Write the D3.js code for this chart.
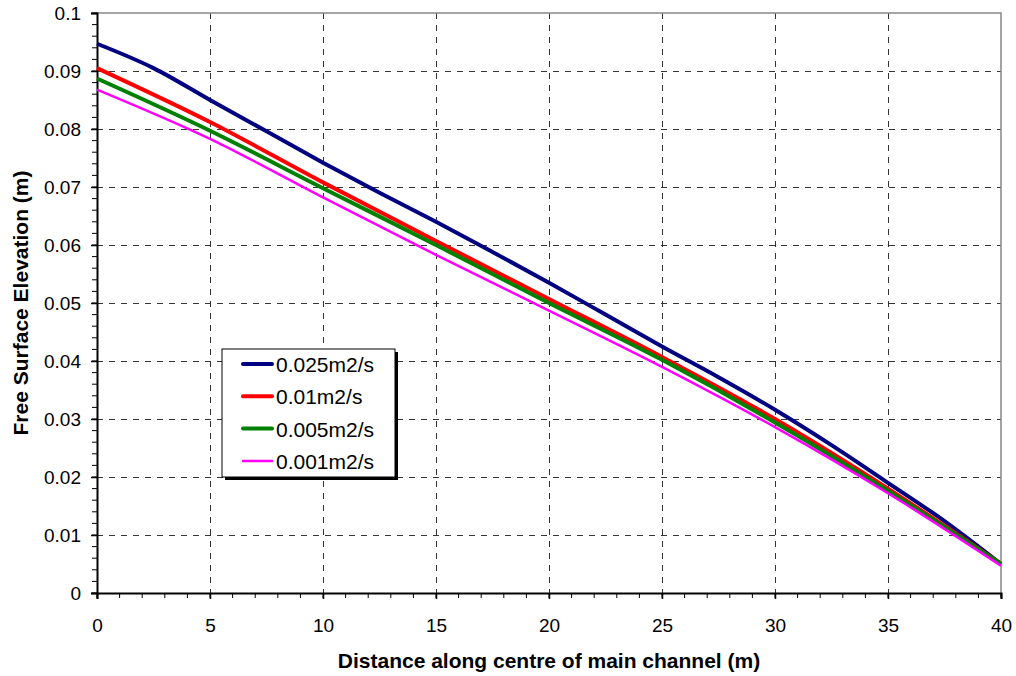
<!DOCTYPE html>
<html>
<head>
<meta charset="utf-8">
<script src="https://cdn.jsdelivr.net/npm/d3@7"></script>
<style>
  body { margin: 0; background: #fff; }
  text { font-family: "Liberation Sans", Arial, sans-serif; }
</style>
</head>
<body>
<script>
// distances along channel (m)
var xs = [0, 5, 10, 15, 20, 25, 30, 35, 40];
var xsBlue = [0, 2.5, 5, 7.5, 10, 12.5, 15, 17.5, 20, 22.5, 25, 27.5, 30, 32.5, 35, 37.5, 40];

var q025 = [0.0947, 0.0905, 0.0850, 0.0796, 0.0742, 0.0690, 0.0640, 0.0588, 0.0535, 0.0480, 0.0425, 0.0372, 0.0316, 0.0255, 0.0190, 0.0124, 0.0050];
var q010 = [0.0905, 0.0812, 0.0708, 0.0607, 0.0507, 0.0407, 0.0300, 0.0180, 0.0050];
var q005 = [0.0887, 0.0797, 0.0698, 0.0600, 0.0500, 0.0402, 0.0294, 0.0176, 0.0050];
var q001 = [0.0868, 0.0783, 0.0682, 0.0583, 0.0487, 0.0390, 0.0286, 0.0172, 0.0047];

var names = ["0.025m2/s", "0.01m2/s", "0.005m2/s", "0.001m2/s"];
var colors = ["#000080", "#ff0000", "#008000", "#ff00ff"];
var widths = [4, 4, 4, 2.5];

var xTicks = [0, 5, 10, 15, 20, 25, 30, 35, 40];
var yTicks = [0, 0.01, 0.02, 0.03, 0.04, 0.05, 0.06, 0.07, 0.08, 0.09, 0.1];

var series = [
  { x: xsBlue, y: q025 },
  { x: xs, y: q010 },
  { x: xs, y: q005 },
  { x: xs, y: q001 }
];

var width = 1016, height = 676;
var pLeft = 97, pRight = 1001, pTop = 13, pBottom = 593;

var svg = d3.select("body").append("svg")
    .attr("width", width)
    .attr("height", height);

var x = d3.scaleLinear().domain([0, 40]).range([pLeft, pRight]);
var y = d3.scaleLinear().domain([0, 0.1]).range([pBottom, pTop]);

// grid
svg.append("g").selectAll("line")
    .data(xTicks.slice(1, -1)).enter()
    .append("line")
    .attr("x1", function(d){ return Math.round(x(d)) + 0.5; })
    .attr("x2", function(d){ return Math.round(x(d)) + 0.5; })
    .attr("y1", pTop).attr("y2", pBottom)
    .attr("stroke", "#333").attr("stroke-width", 1)
    .attr("stroke-dasharray", "6,6");

svg.append("g").selectAll("line")
    .data(yTicks.slice(1, -1)).enter()
    .append("line")
    .attr("y1", function(d){ return Math.round(y(d)) + 0.5; })
    .attr("y2", function(d){ return Math.round(y(d)) + 0.5; })
    .attr("x1", pLeft).attr("x2", pRight)
    .attr("stroke", "#333").attr("stroke-width", 1)
    .attr("stroke-dasharray", "6,6");

// top and right border
svg.append("path")
    .attr("d", "M" + pLeft + "," + pTop + "H" + pRight + "V" + pBottom)
    .attr("fill", "none")
    .attr("stroke", "#888")
    .attr("stroke-width", 1.5);

// minor ticks
var yMinor = d3.range(0, 51).map(function(i){ return i * 0.002; });
svg.append("g").selectAll("line")
    .data(yMinor).enter()
    .append("line")
    .attr("x1", pLeft - 5).attr("x2", pLeft)
    .attr("y1", function(d){ return y(d); })
    .attr("y2", function(d){ return y(d); })
    .attr("stroke", "#000").attr("stroke-width", 1);

var xMinor = d3.range(0, 41);
svg.append("g").selectAll("line")
    .data(xMinor).enter()
    .append("line")
    .attr("y1", pBottom).attr("y2", pBottom + 5)
    .attr("x1", function(d){ return x(d); })
    .attr("x2", function(d){ return x(d); })
    .attr("stroke", "#000").attr("stroke-width", 1);

// axes
var yAxis = svg.append("g")
    .attr("transform", "translate(" + pLeft + ",0)")
    .call(d3.axisLeft(y).tickValues(yTicks).tickSize(6).tickPadding(10)
      .tickFormat(function(d){ return d === 0 ? "0" : d3.format("~g")(d); }));

var xAxis = svg.append("g")
    .attr("transform", "translate(0," + pBottom + ")")
    .call(d3.axisBottom(x).tickValues(xTicks).tickSize(6).tickPadding(20));

[xAxis, yAxis].forEach(function(a){
  a.select(".domain").attr("stroke", "#000").attr("stroke-width", 2);
  a.selectAll(".tick line").attr("stroke", "#000").attr("stroke-width", 1.5);
  a.selectAll("text").attr("font-size", 19).attr("fill", "#000")
    .attr("font-family", "Liberation Sans, Arial, sans-serif");
});

// curves
var line = d3.line()
    .x(function(d){ return x(d[0]); })
    .y(function(d){ return y(d[1]); })
    .curve(d3.curveMonotoneX);

series.forEach(function(s, i){
  svg.append("path")
    .datum(s.x.map(function(v, j){ return [v, s.y[j]]; }))
    .attr("fill", "none")
    .attr("stroke", colors[i])
    .attr("stroke-width", widths[i])
    .attr("d", line);
});

// axis titles
svg.append("text")
    .attr("x", (pLeft + pRight) / 2)
    .attr("y", 668)
    .attr("text-anchor", "middle")
    .attr("font-size", 21)
    .attr("font-weight", "bold")
    .text("Distance along centre of main channel (m)");

svg.append("text")
    .attr("transform", "translate(28," + ((pTop + pBottom) / 2) + ") rotate(-90)")
    .attr("text-anchor", "middle")
    .attr("font-size", 21)
    .attr("font-weight", "bold")
    .text("Free Surface Elevation (m)");

// legend
var legend = svg.append("g").attr("class", "legend");
legend.append("rect")
    .attr("x", 225).attr("y", 352)
    .attr("width", 173).attr("height", 128)
    .attr("fill", "#000");
legend.append("rect")
    .attr("x", 222).attr("y", 349)
    .attr("width", 173).attr("height", 128)
    .attr("fill", "#fff")
    .attr("stroke", "#000").attr("stroke-width", 1);

legend.selectAll("line.key")
    .data(names).enter()
    .append("line")
    .attr("class", "key")
    .attr("x1", 243).attr("x2", 272)
    .attr("y1", function(d, i){ return 364 + i * 32.3; })
    .attr("y2", function(d, i){ return 364 + i * 32.3; })
    .attr("stroke", function(d, i){ return colors[i]; })
    .attr("stroke-width", function(d, i){ return widths[i]; })
    .attr("stroke-linecap", "round");

legend.selectAll("text")
    .data(names).enter()
    .append("text")
    .attr("x", 276)
    .attr("y", function(d, i){ return 372 + i * 32.3; })
    .attr("font-size", 21)
    .text(function(d){ return d; });
</script>
</body>
</html>
